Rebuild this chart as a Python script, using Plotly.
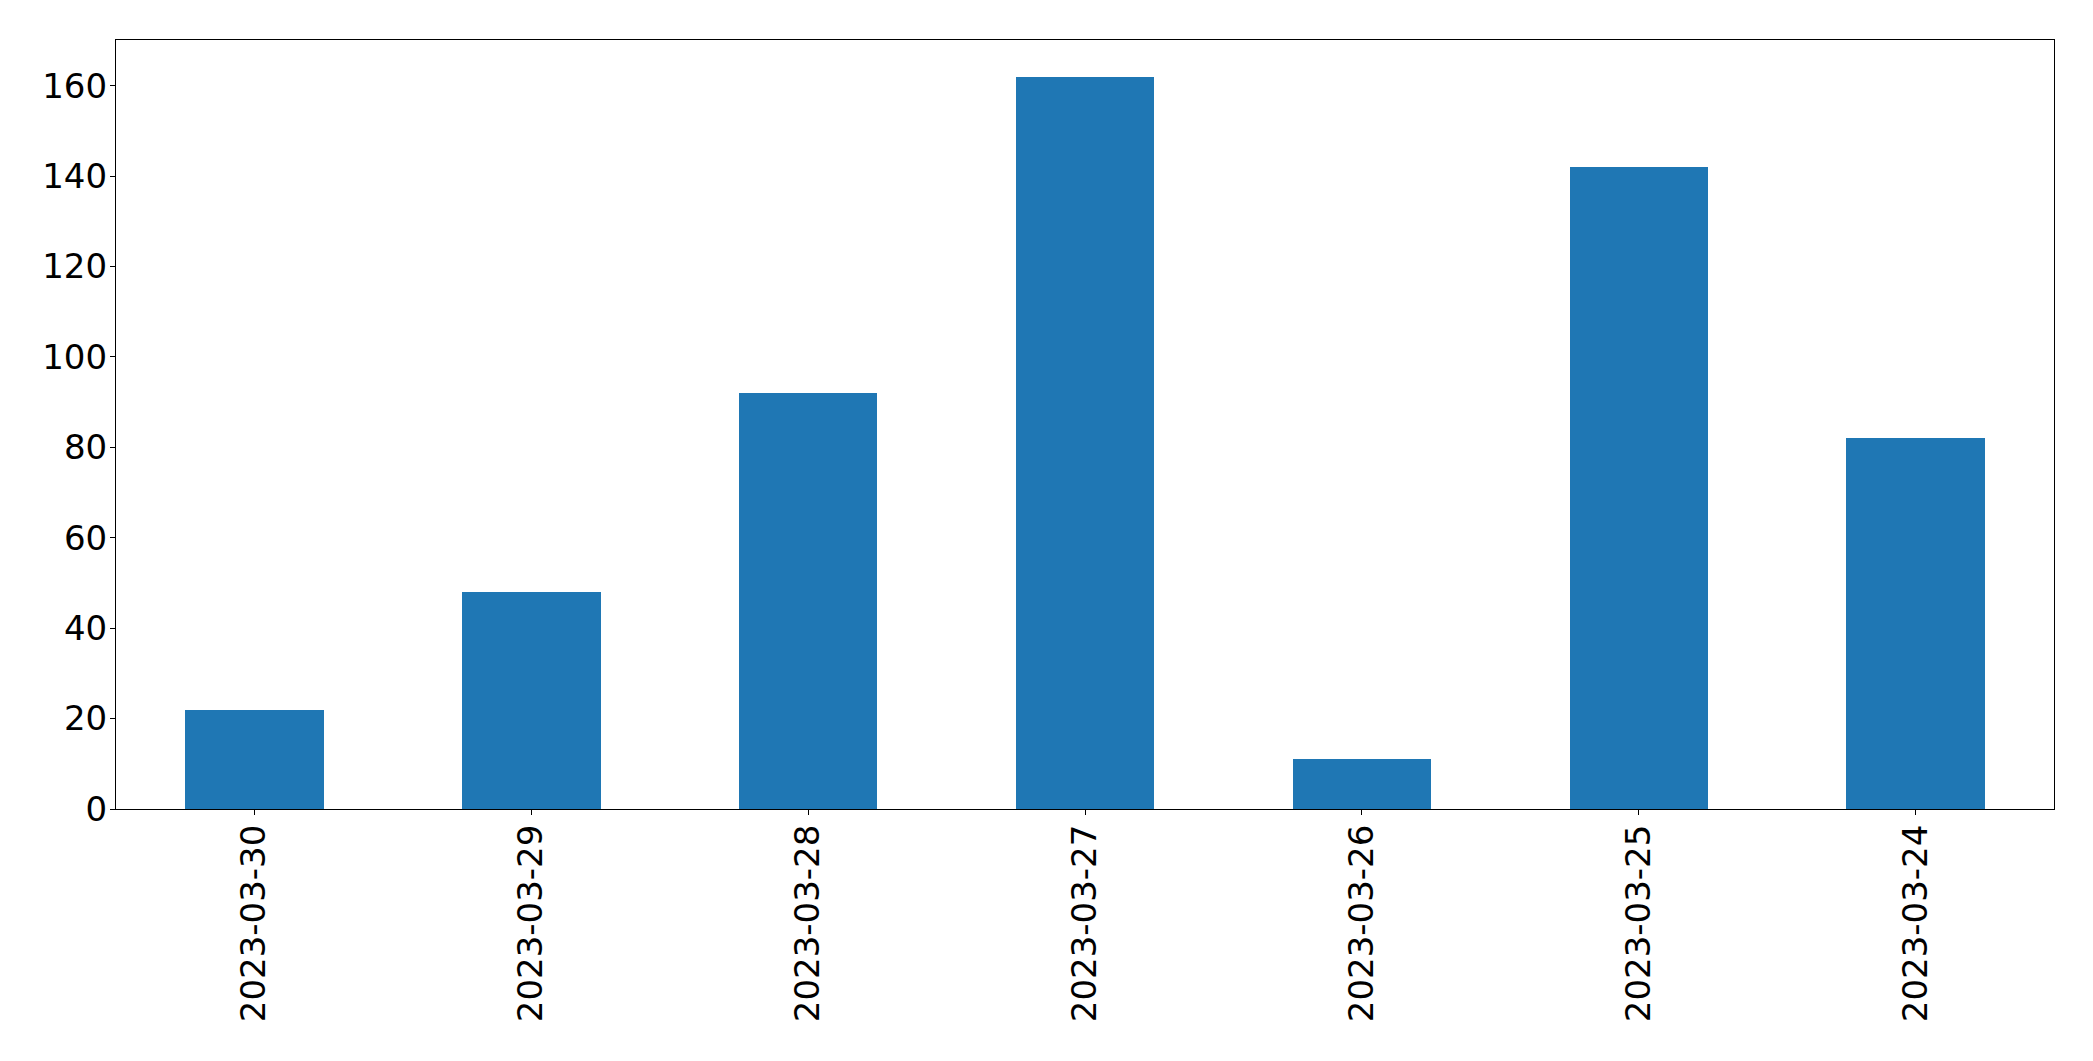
import plotly.graph_objects as go

dates = ["2023-03-30", "2023-03-29", "2023-03-28", "2023-03-27",
         "2023-03-26", "2023-03-25", "2023-03-24"]
counts = [22, 48, 92, 162, 11, 142, 82]
y_ticks = [0, 20, 40, 60, 80, 100, 120, 140, 160]

font = dict(family="DejaVu Sans", size=34, color="black")

fig = go.Figure(go.Bar(x=dates, y=counts, width=0.5, marker=dict(color="#1f77b4", line=dict(width=0))))

fig.update_layout(
    width=2093, height=1061,
    margin=dict(l=116, r=39, t=40, b=252, autoexpand=False),
    paper_bgcolor="white", plot_bgcolor="white",
    showlegend=False, font=font, bargap=0,
)
axis_common = dict(showline=True, linecolor="black", linewidth=1.1, mirror=True,
                   ticks="outside", ticklen=5, tickwidth=1.1, tickcolor="black",
                   showgrid=False, zeroline=False, tickfont=font, automargin=False)
fig.update_xaxes(type="category", range=[-0.5, 6.5], tickangle=-90, ticklabelstandoff=-4, **axis_common)
fig.update_yaxes(range=[0, 170.1], tickvals=y_ticks, ticklabelstandoff=-4, **axis_common)

fig.write_html("out.html", config={"displayModeBar": False},
               post_script="document.body.style.margin='0';document.body.style.overflow='hidden';")
